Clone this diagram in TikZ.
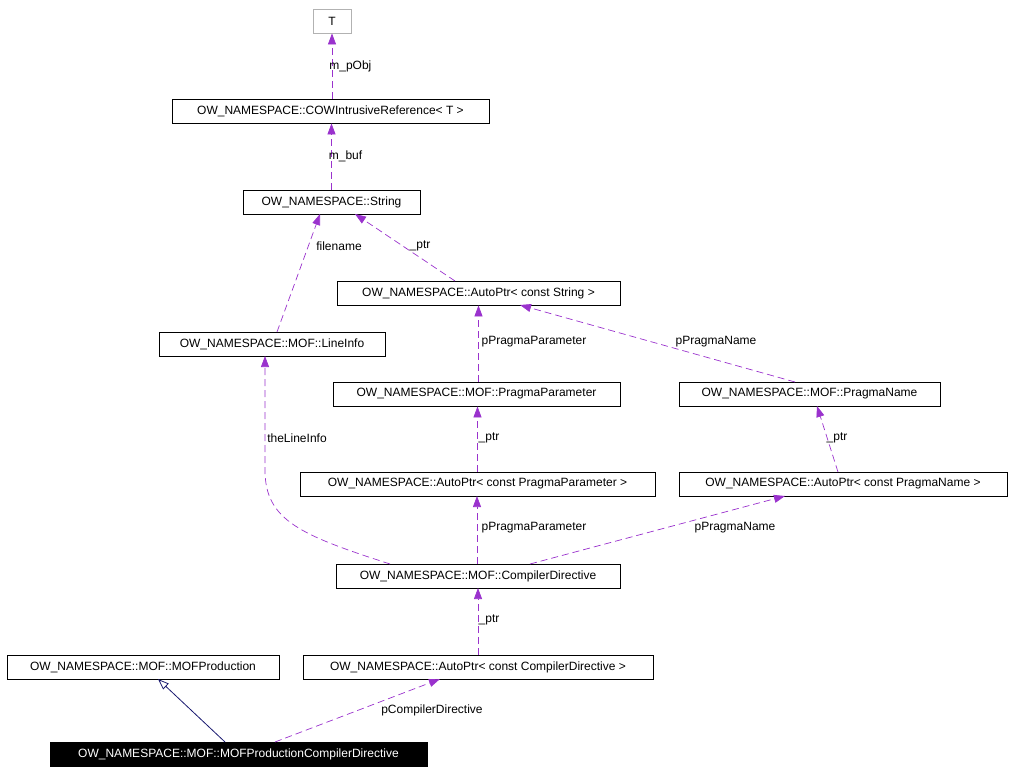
\documentclass[tikz,border=0pt]{standalone}
\usepackage{fontspec}
\setmainfont{Liberation Sans}
\usetikzlibrary{arrows.meta}
\definecolor{purp}{HTML}{9A32CD}
\definecolor{navy}{HTML}{191970}
\begin{document}
\begin{tikzpicture}[x=1pt,y=-1pt,font=\fontsize{12}{14}\selectfont,
  cls/.style={draw=black,fill=white,minimum height=24pt,inner sep=0pt,line width=0.8pt},
  use/.style={draw=purp,dash pattern=on 7pt off 4pt,line width=0.7pt,-{Triangle[width=8pt,length=11pt,fill=purp]}},
  inh/.style={draw=navy,line width=0.8pt,-{Triangle[open,width=8pt,length=11pt,fill=white]}},
  lab/.style={font=\fontsize{12}{14}\selectfont,inner sep=1pt}]
\useasboundingbox (0,0) rectangle (1013,776);
\node[cls,draw=gray!60,minimum width=38pt] (T) at (332,21) {T};
\node[cls,minimum width=317pt] (cow) at (330.5,111) {OW\_NAMESPACE::COWIntrusiveReference< T >};
\node[cls,minimum width=177pt] (str) at (331.5,202) {OW\_NAMESPACE::String};
\node[cls,minimum width=283pt] (aps) at (478.5,293) {OW\_NAMESPACE::AutoPtr< const String >};
\node[cls,minimum width=226pt] (li) at (272,344) {OW\_NAMESPACE::MOF::LineInfo};
\node[cls,minimum width=287pt] (pp) at (476.5,394) {OW\_NAMESPACE::MOF::PragmaParameter};
\node[cls,minimum width=261pt] (pn) at (809.5,394) {OW\_NAMESPACE::MOF::PragmaName};
\node[cls,minimum width=355pt] (appp) at (477.5,484) {OW\_NAMESPACE::AutoPtr< const PragmaParameter >};
\node[cls,minimum width=328pt] (appn) at (843,484) {OW\_NAMESPACE::AutoPtr< const PragmaName >};
\node[cls,minimum width=284pt] (cd) at (478,576) {OW\_NAMESPACE::MOF::CompilerDirective};
\node[cls,minimum width=272pt] (mp) at (143,667) {OW\_NAMESPACE::MOF::MOFProduction};
\node[cls,minimum width=350pt] (apcd) at (478,667) {OW\_NAMESPACE::AutoPtr< const CompilerDirective >};
\node[cls,fill=black,text=white,minimum width=377pt] (mpcd) at (238.5,754) {OW\_NAMESPACE::MOF::MOFProductionCompilerDirective};

\draw[use] (cow.north -| T) -- (T.south) node[lab,pos=0.5,right,xshift=-4pt] {m\_pObj};
\draw[use] (str.north) -- (str.north |- cow.south) node[lab,pos=0.5,right,xshift=-4pt] {m\_buf};
\draw[use] (277,332) -- (320,214);
\node[lab] at (339,246) {filename};
\draw[use] (455,281) -- (355,214);
\node[lab] at (420,246) {\_ptr};
\draw[use] (pp.north -| aps) -- (aps.south);
\node[lab] at (534,342) {pPragmaParameter};
\draw[use] (795,382) -- (520,305);
\node[lab] at (716,342) {pPragmaName};
\draw[use] (appp.north) -- (appp.north |- pp.south);
\node[lab] at (489,438) {\_ptr};
\draw[use] (838,472) -- (817,406);
\node[lab] at (837,438) {\_ptr};
\draw[use] (390,564) .. controls (300,535) and (265,520) .. (265,470) -- (265,356);
\node[lab] at (297,438) {theLineInfo};
\draw[use] (477,564) -- (477,496);
\node[lab] at (534,528) {pPragmaParameter};
\draw[use] (530,564) -- (785,496);
\node[lab] at (735,528) {pPragmaName};
\draw[use] (478,655) -- (478,588);
\node[lab] at (489,620) {\_ptr};
\draw[inh] (225,742) -- (158,679);
\draw[use] (275,742) -- (440,679);
\node[lab] at (432,710) {pCompilerDirective};
\end{tikzpicture}
\end{document}
